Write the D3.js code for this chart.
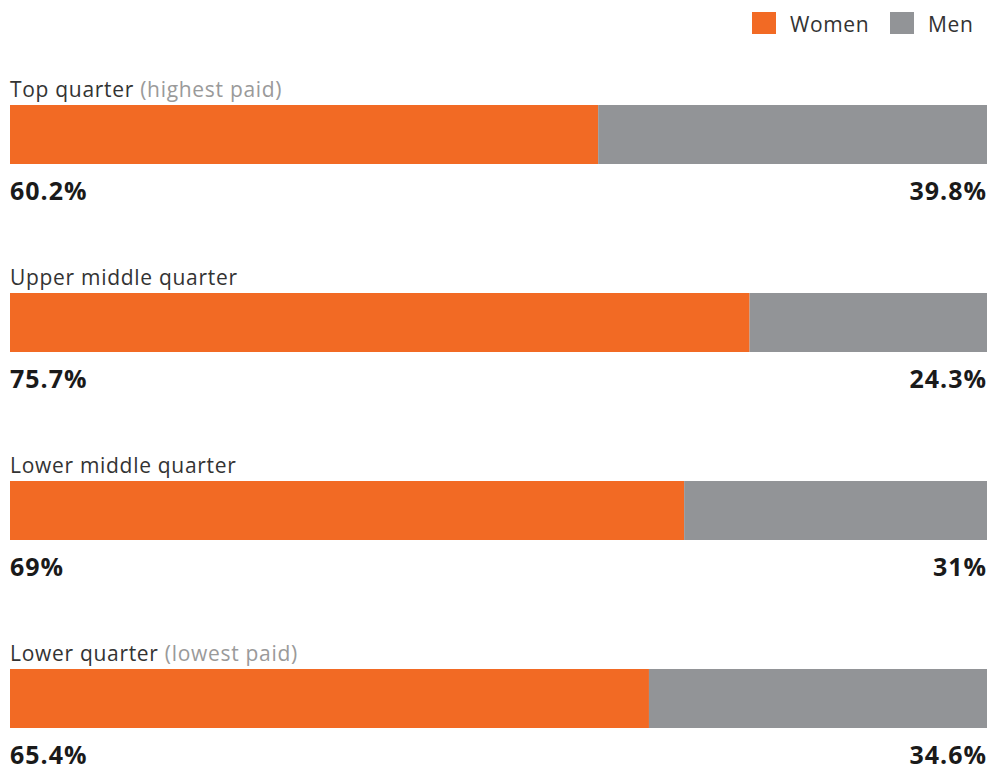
<!DOCTYPE html>
<html>
<head>
<meta charset="utf-8">
<script src="https://cdn.jsdelivr.net/npm/d3@7"></script>
<style>
  body { margin: 0; background: #fff; }
  text { font-family: "Open Sans", Lato, sans-serif; }
</style>
</head>
<body>
<div id="chart"></div>
<script>
// quartile groups, top to bottom
var groups = ["Top quarter", "Upper middle quarter", "Lower middle quarter", "Lower quarter"];
var notes = ["(highest paid)", "", "", "(lowest paid)"];
var women = [60.2, 75.7, 69, 65.4];
var men = [39.8, 24.3, 31, 34.6];
var seriesNames = ["Women", "Men"];
var seriesColors = ["#f26a24", "#929497"];

var w = 992, h = 771;
var left = 10, right = 987;

var svg = d3.select("#chart").append("svg")
  .attr("width", w)
  .attr("height", h);

var x = d3.scaleLinear().domain([0, 100]).range([left, right]);
var y = d3.scaleBand().domain(groups).range([105, 105 + 188 * 4]).paddingInner(0).paddingOuter(0);
var barH = 59;

// legend
var legend = svg.append("g");
var legendX = [752, 890];
seriesNames.forEach(function(name, i) {
  legend.append("rect")
    .attr("x", legendX[i]).attr("y", 12)
    .attr("width", 24).attr("height", 22)
    .attr("fill", seriesColors[i]);
  legend.append("text")
    .attr("x", legendX[i] + 38).attr("y", 32)
    .attr("font-size", 21)
    .attr("letter-spacing", 0.6)
    .attr("fill", "#333")
    .text(name);
});

var rows = svg.selectAll("g.row")
  .data(groups)
  .enter().append("g")
  .attr("class", "row")
  .attr("transform", function(d) { return "translate(0," + y(d) + ")"; });

// group label
var lbl = rows.append("text")
  .attr("x", left).attr("y", -8)
  .attr("font-size", 21)
  .attr("letter-spacing", 0.7)
  .attr("fill", "#333");
lbl.append("tspan").text(function(d) { return d; });
lbl.append("tspan")
  .attr("fill", "#9a9a9a")
  .text(function(d, i) { return notes[i] ? " " + notes[i] : ""; });

// women segment
rows.append("rect")
  .attr("x", x(0))
  .attr("y", 0)
  .attr("width", function(d, i) { return x(women[i]) - x(0); })
  .attr("height", barH)
  .attr("fill", seriesColors[0]);

// men segment
rows.append("rect")
  .attr("x", function(d, i) { return x(women[i]); })
  .attr("y", 0)
  .attr("width", function(d, i) { return x(women[i] + men[i]) - x(women[i]); })
  .attr("height", barH)
  .attr("fill", seriesColors[1]);

// value labels
rows.append("text")
  .attr("x", left).attr("y", barH + 36)
  .attr("font-size", 25).attr("font-weight", "bold")
  .attr("letter-spacing", 1)
  .attr("fill", "#1a1a1a")
  .text(function(d, i) { return women[i] + "%"; });

rows.append("text")
  .attr("x", right).attr("y", barH + 36)
  .attr("text-anchor", "end")
  .attr("font-size", 25).attr("font-weight", "bold")
  .attr("letter-spacing", 1)
  .attr("fill", "#1a1a1a")
  .text(function(d, i) { return men[i] + "%"; });
</script>
</body>
</html>
